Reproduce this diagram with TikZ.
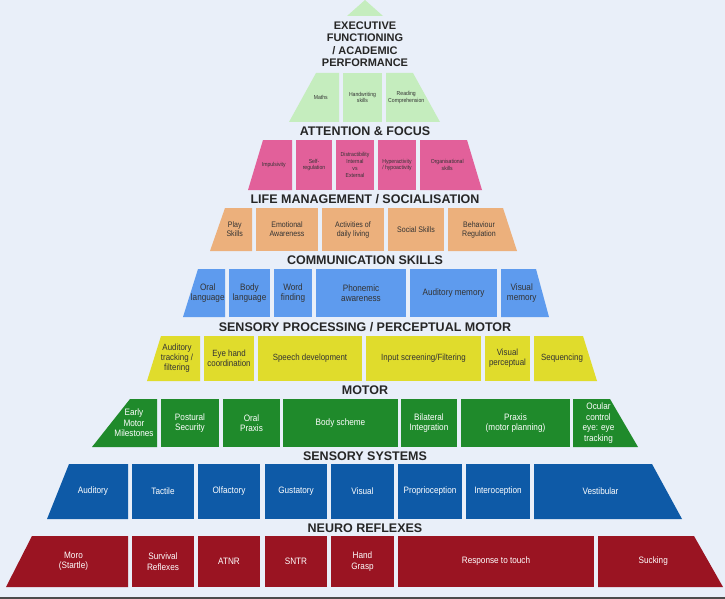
\documentclass[tikz,border=0pt]{standalone}
\usepackage{fontspec}
\setmainfont{Liberation Sans}
\newfontfamily\narrowf[FakeStretch=0.88]{Liberation Sans}
\definecolor{bg}{HTML}{E9EFF9}
\definecolor{cA}{HTML}{C5EDBE}
\definecolor{cB}{HTML}{E2609A}
\definecolor{cC}{HTML}{ECB07C}
\definecolor{cD}{HTML}{5E9BEE}
\definecolor{cE}{HTML}{E0DC2C}
\definecolor{cF}{HTML}{1F8A2B}
\definecolor{cG}{HTML}{0E5AA7}
\definecolor{cH}{HTML}{9A1422}
\tikzset{
  ttl/.style={font=\fontsize{12.5}{14}\selectfont\bfseries,text=black!85,align=center},
  lt/.style={text=black!80},
  dk/.style={text=white},
  bxs/.style={lt}}
% #1 name #2 color #3 xlt #4 xlb #5 xrt #6 xrb #7 yt #8 yb #9 text
\newcommand\mybx[9]{%
  \fill[#2] (#3,#7) -- (#5,#7) -- (#6,#8) -- (#4,#8) -- cycle;
  \pgfmathsetmacro\mycx{(#3+#4+#5+#6)/4}%
  \pgfmathsetmacro\mycy{(#7+#8)/2}%
  \node[bxs,align=center,inner sep=0pt] (#1) at (\mycx,\mycy) {#9};}
\begin{document}
\begin{tikzpicture}[x=1pt,y=-1pt]
\fill[bg] (0,0) rectangle (725,599);
\useasboundingbox (0,0) rectangle (725,599);
\draw[black!70,line width=1.5pt] (0,598) -- (725,598);
\fill[cA] (365,0) -- (383,16) -- (347,16) -- cycle;
\node[ttl,font=\fontsize{11}{12.5}\selectfont\bfseries] (t1) at (365,44) {EXECUTIVE\\FUNCTIONING\\/ ACADEMIC\\PERFORMANCE};
\tikzset{bxs/.style={lt,font=\narrowf\fontsize{5.8}{6.8}\selectfont}}
\mybx{a1}{cA}{316}{289}{339}{339}{73}{122}{Maths}
\mybx{a2}{cA}{343}{343}{382}{382}{73}{122}{Handwriting\\skills}
\mybx{a3}{cA}{386}{386}{413}{440}{73}{122}{Reading\\Comprehension}
\node[ttl] (t2) at (365,131) {ATTENTION \& FOCUS};
\mybx{b1}{cB}{263}{248}{292}{292}{140}{190}{Impulsivity}
\mybx{b2}{cB}{296}{296}{332}{332}{140}{190}{Self-\\regulation}
\mybx{b3}{cB}{336}{336}{374}{374}{140}{190}{Distractibility\\Internal\\vs\\External}
\mybx{b4}{cB}{378}{378}{416}{416}{140}{190}{Hyperactivity\\/ hypoactivity}
\mybx{b5}{cB}{420}{420}{467}{482}{140}{190}{Organisational\\skills}
\node[ttl] (t3) at (365,199) {LIFE MANAGEMENT / SOCIALISATION};
\tikzset{bxs/.style={lt,font=\narrowf\fontsize{8}{9}\selectfont}}
\mybx{c1}{cC}{225}{210}{252}{252}{208}{251}{Play\\Skills}
\mybx{c2}{cC}{256}{256}{318}{318}{208}{251}{Emotional\\Awareness}
\mybx{c3}{cC}{322}{322}{384}{384}{208}{251}{Activities of\\daily living}
\mybx{c4}{cC}{388}{388}{444}{444}{208}{251}{Social Skills}
\mybx{c5}{cC}{448}{448}{503}{517}{208}{251}{Behaviour\\Regulation}
\node[ttl] (t4) at (365,260) {COMMUNICATION SKILLS};
\tikzset{bxs/.style={lt,font=\narrowf\fontsize{9.3}{10.5}\selectfont}}
\mybx{d1}{cD}{198}{183}{225}{225}{269}{317}{Oral\\language}
\mybx{d2}{cD}{229}{229}{270}{270}{269}{317}{Body\\language}
\mybx{d3}{cD}{274}{274}{312}{312}{269}{317}{Word\\finding}
\mybx{d4}{cD}{316}{316}{406}{406}{269}{317}{Phonemic\\awareness}
\mybx{d5}{cD}{410}{410}{497}{497}{269}{317}{Auditory memory}
\mybx{d6}{cD}{501}{501}{536}{549}{269}{317}{Visual\\memory}
\node[ttl] (t5) at (365,327) {SENSORY PROCESSING / PERCEPTUAL MOTOR};
\tikzset{bxs/.style={lt,font=\narrowf\fontsize{9}{10}\selectfont}}
\mybx{e1}{cE}{161}{147}{200}{200}{336}{381}{Auditory\\tracking /\\filtering}
\mybx{e2}{cE}{204}{204}{254}{254}{336}{381}{Eye hand\\coordination}
\mybx{e3}{cE}{258}{258}{362}{362}{336}{381}{Speech development}
\mybx{e4}{cE}{366}{366}{481}{481}{336}{381}{Input screening/Filtering}
\mybx{e5}{cE}{485}{485}{530}{530}{336}{381}{Visual\\perceptual}
\mybx{e6}{cE}{534}{534}{583}{597}{336}{381}{Sequencing}
\node[ttl] (t6) at (365,390) {MOTOR};
\tikzset{bxs/.style={dk,font=\narrowf\fontsize{9.3}{10.5}\selectfont}}
\mybx{f1}{cF}{130}{92}{157}{157}{399}{447}{Early\\Motor\\Milestones}
\mybx{f2}{cF}{161}{161}{219}{219}{399}{447}{Postural\\Security}
\mybx{f3}{cF}{223}{223}{280}{280}{399}{447}{Oral\\Praxis}
\mybx{f4}{cF}{283}{283}{398}{398}{399}{447}{Body scheme}
\mybx{f5}{cF}{401}{401}{457}{457}{399}{447}{Bilateral\\Integration}
\mybx{f6}{cF}{461}{461}{570}{570}{399}{447}{Praxis\\(motor planning)}
\mybx{f7}{cF}{573}{573}{610}{638}{399}{447}{Ocular\\control\\eye: eye\\tracking}
\node[ttl] (t7) at (365,456) {SENSORY SYSTEMS};
\mybx{g1}{cG}{69}{47}{128}{128}{464}{519}{Auditory}
\mybx{g2}{cG}{132}{132}{194}{194}{464}{519}{Tactile}
\mybx{g3}{cG}{198}{198}{260}{260}{464}{519}{Olfactory}
\mybx{g4}{cG}{265}{265}{327}{327}{464}{519}{Gustatory}
\mybx{g5}{cG}{331}{331}{394}{394}{464}{519}{Visual}
\mybx{g6}{cG}{398}{398}{462}{462}{464}{519}{Proprioception}
\mybx{g7}{cG}{466}{466}{530}{530}{464}{519}{Interoception}
\mybx{g8}{cG}{534}{534}{652}{682}{464}{519}{Vestibular}
\node[ttl] (t8) at (365,528) {NEURO REFLEXES};
\mybx{h1}{cH}{32}{6}{128}{128}{536}{587}{Moro\\(Startle)}
\mybx{h2}{cH}{132}{132}{194}{194}{536}{587}{Survival\\Reflexes}
\mybx{h3}{cH}{198}{198}{260}{260}{536}{587}{ATNR}
\mybx{h4}{cH}{265}{265}{327}{327}{536}{587}{SNTR}
\mybx{h5}{cH}{331}{331}{394}{394}{536}{587}{Hand\\Grasp}
\mybx{h6}{cH}{398}{398}{594}{594}{536}{587}{Response to touch}
\mybx{h7}{cH}{598}{598}{694}{723}{536}{587}{Sucking}
\end{tikzpicture}
\end{document}
